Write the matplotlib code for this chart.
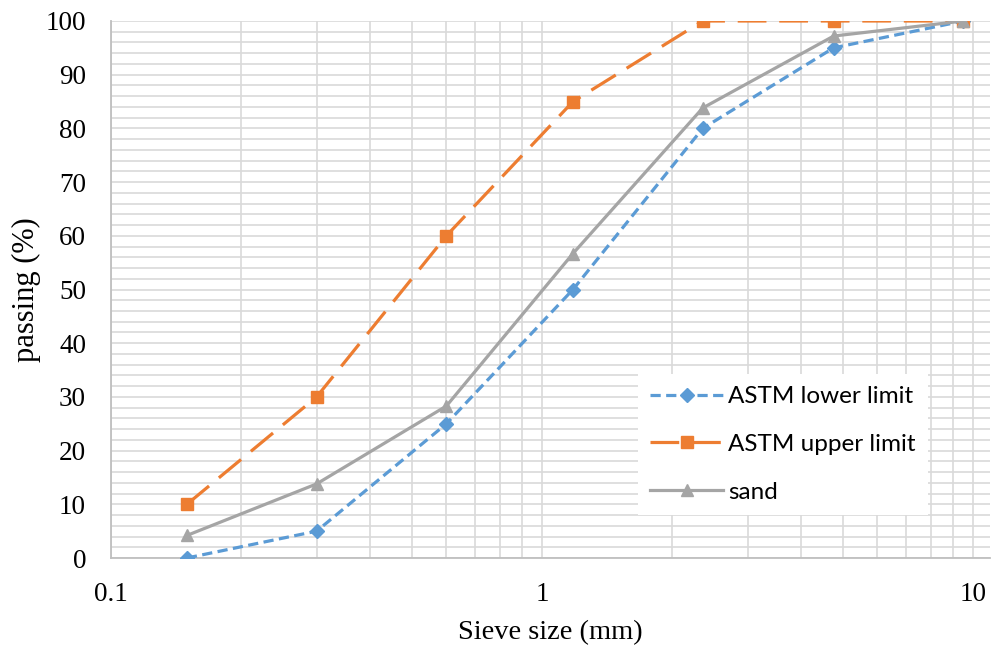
import matplotlib.pyplot as plt
import matplotlib.ticker as mticker
import numpy as np

sieve = [0.15, 0.3, 0.6, 1.18, 2.36, 4.75, 9.5]
lower = [0, 5, 25, 50, 80, 95, 100]
upper = [10, 30, 60, 85, 100, 100, 100]
sand = [4.2, 13.8, 28.3, 56.7, 83.8, 97.2, 100]

W, H = 996, 646
fig = plt.figure(figsize=(W / 100, H / 100), dpi=100)
# plot area in pixels: left 111, right 990, top 21, bottom 558
ax = fig.add_axes([111 / W, 1 - 558 / H, (990 - 111) / W, (558 - 21) / H])

ax.plot(sieve, lower, color='#5B9BD5', lw=2.3, ls=(0, (3.2, 1.7)), marker='D', ms=7.5,
        label='ASTM lower limit', zorder=3)
ax.plot(sieve, upper, color='#ED7D31', lw=2.3, ls=(0, (9, 4)), marker='s', ms=9,
        label='ASTM upper limit', zorder=3)
ax.plot(sieve, sand, color='#A5A5A5', lw=2.3, marker='^', ms=9,
        label='sand', zorder=3)

ax.set_xscale('log')
ax.set_xlim(0.1, 10 ** (1 + 17 / 431))
ax.set_ylim(0, 100)
ax.set_xticks([0.1, 1, 10])
ax.xaxis.set_major_formatter(mticker.FuncFormatter(lambda v, p: '%g' % v))
ax.xaxis.set_minor_locator(mticker.LogLocator(base=10, subs=np.arange(2, 10)))
ax.xaxis.set_minor_formatter(mticker.NullFormatter())
ax.set_yticks(range(0, 101, 10))
ax.yaxis.set_minor_locator(mticker.MultipleLocator(2))

ax.grid(True, which='both', color='#D9D9D9', lw=1.2, zorder=0)
ax.tick_params(which='both', length=0)
ax.tick_params(axis='x', pad=17)
ax.tick_params(axis='y', pad=18)
for lab in ax.get_xticklabels() + ax.get_yticklabels():
    lab.set_fontfamily('Liberation Serif')
    lab.set_fontsize(19.5)

for s in ['top', 'right']:
    ax.spines[s].set_visible(False)
for s in ['left', 'bottom']:
    ax.spines[s].set_color('#BFBFBF')
    ax.spines[s].set_linewidth(1.3)

ax.set_xlabel('Sieve size (mm)', fontfamily='Liberation Serif', fontsize=20.5, labelpad=10)
ax.set_ylabel('passing (%)', fontfamily='Liberation Serif', fontsize=22, labelpad=3)

leg = fig.legend(loc='upper left', bbox_to_anchor=(638 / W, 1 - 374 / H), frameon=True,
                 prop={'family': 'Lato', 'size': 17.5}, handlelength=3.0,
                 handletextpad=0.2, labelspacing=1.1, borderpad=0.5,
                 borderaxespad=0, fancybox=False)
leg.get_frame().set_edgecolor('white')
leg.get_frame().set_facecolor('white')
leg.get_frame().set_alpha(1)
leg.get_frame().set_linewidth(0)

fig.savefig('out.png', dpi=100)
